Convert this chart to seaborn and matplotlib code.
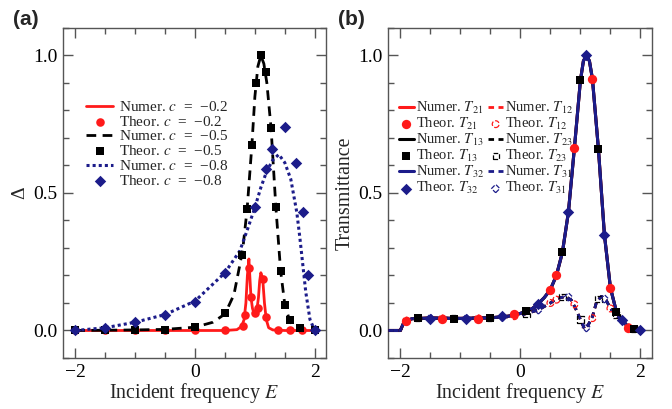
import numpy as np
import pandas as pd
import matplotlib
matplotlib.use("Agg")
import matplotlib.pyplot as plt
import seaborn as sns
from matplotlib.ticker import MultipleLocator, FixedLocator

# ---------------- Panel (a) data ----------------
a_red_line_E = [-2.0, -1.0, 0.0, 0.5, 0.7, 0.78, 0.82, 0.85, 0.875, 0.9, 0.915, 0.935, 0.96, 0.99, 1.03, 1.06, 1.08, 1.1, 1.13, 1.16, 1.19, 1.23, 1.3, 1.5, 2.0]
a_red_line_y = [0.0, 0.0, 0.0, 0.0, 0.003, 0.015, 0.04, 0.1, 0.2, 0.26, 0.2, 0.12, 0.08, 0.06, 0.07, 0.12, 0.18, 0.21, 0.19, 0.1, 0.04, 0.01, 0.002, 0.0, 0.0]
a_red_pts_E = [-2.0, -1.5, -1.0, -0.5, 0.0, 0.5, 0.8, 0.83, 0.9, 0.93, 1.0, 1.05, 1.14, 1.19, 1.39, 1.58, 1.78]
a_red_pts_y = [0.0, 0.0, 0.0, 0.0, 0.0, 0.0, 0.016, 0.057, 0.227, 0.122, 0.062, 0.08, 0.187, 0.048, 0.0, 0.0, 0.0]

a_blk_line_E = [-2.0, -1.0, -0.5, 0.0, 0.3, 0.5, 0.65, 0.75, 0.8, 0.87, 0.95, 1.0, 1.05, 1.1, 1.15, 1.2, 1.27, 1.35, 1.43, 1.5, 1.58, 1.65, 1.75, 2.0]
a_blk_line_y = [0.0, 0.002, 0.004, 0.012, 0.03, 0.06, 0.13, 0.24, 0.3, 0.44, 0.674, 0.85, 0.96, 1.0, 0.97, 0.9, 0.737, 0.45, 0.217, 0.094, 0.037, 0.015, 0.007, 0.0]
a_blk_pts_E = [-2.0, -1.5, -1.0, -0.5, 0.0, 0.5, 0.79, 0.87, 0.955, 1.02, 1.11, 1.18, 1.27, 1.35, 1.43, 1.5, 1.58, 1.75, 2.0]
a_blk_pts_y = [0.0, 0.0, 0.0, 0.003, 0.012, 0.062, 0.275, 0.44, 0.674, 0.9, 1.0, 0.94, 0.737, 0.45, 0.217, 0.094, 0.037, 0.008, 0.0]

a_blu_line_E = [-2.0, -1.5, -1.0, -0.5, 0.0, 0.5, 0.75, 0.88, 1.0, 1.1, 1.2, 1.3, 1.4, 1.5, 1.6, 1.7, 1.75, 1.8, 1.85, 1.92, 2.0]
a_blu_line_y = [0.0, 0.01, 0.03, 0.058, 0.107, 0.21, 0.29, 0.37, 0.447, 0.52, 0.58, 0.62, 0.64, 0.61, 0.55, 0.43, 0.34, 0.24, 0.14, 0.04, 0.0]
a_blu_pts_E = [-2.0, -1.5, -1.0, -0.5, 0.0, 0.5, 1.0, 1.19, 1.28, 1.5, 1.69, 1.8, 1.88, 2.0]
a_blu_pts_y = [0.0, 0.01, 0.03, 0.057, 0.105, 0.208, 0.45, 0.588, 0.66, 0.74, 0.61, 0.431, 0.2, 0.003]

# ---------------- Panel (b) data ----------------
b_main_E = [-2.2, -2.0, -1.95, -1.9, -1.8, -1.5, -1.0, -0.5, -0.2, 0.0, 0.2, 0.3, 0.4, 0.5, 0.6, 0.7, 0.8, 0.9, 1.0, 1.05, 1.1, 1.15, 1.2, 1.3, 1.4, 1.5, 1.6, 1.7, 1.8, 1.9, 2.0]
b_main_y = [0.0, 0.0, 0.025, 0.036, 0.043, 0.045, 0.044, 0.046, 0.052, 0.062, 0.08, 0.098, 0.12, 0.149, 0.2, 0.284, 0.43, 0.664, 0.909, 0.98, 1.0, 0.98, 0.915, 0.66, 0.348, 0.155, 0.068, 0.037, 0.012, 0.004, 0.0]
b_dash_E = [-2.2, -2.0, -1.95, -1.9, -1.8, -1.5, -1.0, -0.5, -0.2, 0.0, 0.3, 0.5, 0.6, 0.75, 0.85, 0.93, 1.0, 1.07, 1.13, 1.2, 1.27, 1.35, 1.43, 1.5, 1.6, 1.7, 1.8, 1.9, 2.0]
b_dash_y = [0.0, 0.0, 0.025, 0.036, 0.043, 0.045, 0.044, 0.046, 0.05, 0.055, 0.075, 0.1, 0.115, 0.124, 0.11, 0.075, 0.04, 0.005, 0.02, 0.05, 0.105, 0.124, 0.11, 0.08, 0.055, 0.035, 0.012, 0.004, 0.0]

b_T21_E = [-1.9, -1.3, -0.7, -0.1, 0.5, 0.6, 0.9, 1.2, 1.5, 1.8]
b_T21_y = [0.034, 0.042, 0.042, 0.06, 0.149, 0.2, 0.664, 0.915, 0.155, 0.01]
b_T13_E = [-1.7, -1.1, -0.5, 0.1, 0.7, 1.0, 1.3, 1.6, 1.9]
b_T13_y = [0.046, 0.042, 0.046, 0.072, 0.284, 0.909, 0.66, 0.068, 0.004]
b_T32_E = [-1.5, -0.9, -0.3, 0.3, 0.8, 1.1, 1.4, 1.7, 2.0]
b_T32_y = [0.042, 0.042, 0.052, 0.098, 0.43, 1.0, 0.348, 0.037, 0.0]

b_T12_E = [-1.9, -1.3, -0.7, -0.1, 0.5, 0.6, 0.9, 1.2, 1.5, 1.8]
b_T12_y = [0.036, 0.044, 0.044, 0.052, 0.1, 0.112, 0.095, 0.045, 0.08, 0.012]
b_T23_E = [-1.7, -1.1, -0.5, 0.1, 0.7, 1.0, 1.3, 1.6, 1.9]
b_T23_y = [0.044, 0.044, 0.046, 0.062, 0.122, 0.04, 0.115, 0.055, 0.004]
b_T31_E = [-1.5, -0.9, -0.3, 0.3, 0.8, 1.1, 1.4, 1.7, 2.0]
b_T31_y = [0.045, 0.044, 0.048, 0.075, 0.122, 0.01, 0.115, 0.035, 0.0]

RED = "#ff1a1a"
BLK = "#000000"
NAVY = "#1c1c8a"
SPINE = "#555555"

sns.set_theme(style="ticks")
plt.rcParams["font.family"] = ["Liberation Serif", "DejaVu Serif"]
plt.rcParams["mathtext.fontset"] = "stix"
plt.rcParams["axes.unicode_minus"] = True

fig = plt.figure(figsize=(6.72, 4.09), dpi=100)
axA = fig.add_axes([0.0933, 0.1247, 0.392, 0.807])
axB = fig.add_axes([0.577, 0.1247, 0.393, 0.807])


def style_axes(ax):
    ax.set_xlim(-2.21, 2.19)
    ax.set_ylim(-0.1, 1.1)
    ax.xaxis.set_major_locator(FixedLocator([-2, 0, 2]))
    ax.xaxis.set_minor_locator(FixedLocator([-1.5, -1, -0.5, 0.5, 1, 1.5]))
    ax.yaxis.set_major_locator(FixedLocator([0.0, 0.5, 1.0]))
    ax.yaxis.set_minor_locator(MultipleLocator(0.1))
    ax.set_yticklabels(["0.0", "0.5", "1.0"])
    ax.set_xticklabels(["\u22122", "0", "2"])
    ax.tick_params(which="both", direction="in", top=True, right=True,
                   color=SPINE, labelsize=14, labelcolor="black", pad=4)
    ax.tick_params(which="major", length=7.5, width=1)
    ax.tick_params(which="minor", length=4.5, width=1)
    for s in ax.spines.values():
        s.set_color(SPINE)
        s.set_linewidth(1.0)
    ax.set_xlabel("Incident frequency $E$", fontsize=14.4, labelpad=0)


# ---------------- Panel (a) ----------------
df_a_red = pd.DataFrame({"E": a_red_line_E, "y": a_red_line_y})
df_a_blk = pd.DataFrame({"E": a_blk_line_E, "y": a_blk_line_y})
df_a_blu = pd.DataFrame({"E": a_blu_line_E, "y": a_blu_line_y})

sns.lineplot(data=df_a_red, x="E", y="y", ax=axA, color=RED, lw=2.0,
             label="Numer. $c$  =  \u22120.2", zorder=3)
sns.scatterplot(x=a_red_pts_E, y=a_red_pts_y, ax=axA, color=RED, marker="o",
                s=38, linewidth=0, label="Theor. $c$  =  \u22120.2", zorder=4)
sns.lineplot(data=df_a_blk, x="E", y="y", ax=axA, color=BLK, lw=2.0,
             linestyle=(0, (3.5, 2.3)), label="Numer. $c$  =  \u22120.5", zorder=3)
sns.scatterplot(x=a_blk_pts_E, y=a_blk_pts_y, ax=axA, color=BLK, marker="s",
                s=34, linewidth=0, label="Theor. $c$  =  \u22120.5", zorder=4)
sns.lineplot(data=df_a_blu, x="E", y="y", ax=axA, color=NAVY, lw=2.2,
             linestyle=(0, (1.0, 1.0)), label="Numer. $c$  =  \u22120.8", zorder=3)
sns.scatterplot(x=a_blu_pts_E, y=a_blu_pts_y, ax=axA, color=NAVY, marker="D",
                s=34, linewidth=0, label="Theor. $c$  =  \u22120.8", zorder=4)

style_axes(axA)
axA.set_ylabel("\u0394", fontsize=14, labelpad=3)
legA = axA.legend(loc="upper left", bbox_to_anchor=(0.088, 0.782), frameon=False,
                  fontsize=11, handlelength=1.8, handletextpad=0.35,
                  labelspacing=0.05, borderpad=0, borderaxespad=0)

# ---------------- Panel (b) ----------------
df_main = pd.DataFrame({"E": b_main_E, "y": b_main_y})
df_dash = pd.DataFrame({"E": b_dash_E, "y": b_dash_y})

h = {}
h["n21"] = sns.lineplot(data=df_main, x="E", y="y", ax=axB, color=RED, lw=2.2, zorder=2).lines[-1]
h["n13"] = sns.lineplot(data=df_main, x="E", y="y", ax=axB, color=BLK, lw=2.2, zorder=2).lines[-1]
h["n32"] = sns.lineplot(data=df_main, x="E", y="y", ax=axB, color=NAVY, lw=2.2, zorder=2).lines[-1]
h["n12"] = sns.lineplot(data=df_dash, x="E", y="y", ax=axB, color=RED, lw=2.0,
                        linestyle=(0, (2.0, 1.6)), zorder=3).lines[-1]
h["n23"] = sns.lineplot(data=df_dash, x="E", y="y", ax=axB, color=BLK, lw=2.0,
                        linestyle=(0, (2.0, 1.6)), zorder=3).lines[-1]
h["n31"] = sns.lineplot(data=df_dash, x="E", y="y", ax=axB, color=NAVY, lw=2.0,
                        linestyle=(0, (2.0, 1.6)), zorder=3).lines[-1]

sns.scatterplot(x=b_T21_E, y=b_T21_y, ax=axB, color=RED, marker="o", s=45, linewidth=0, zorder=5)
h["t21"] = axB.collections[-1]
sns.scatterplot(x=b_T13_E, y=b_T13_y, ax=axB, color=BLK, marker="s", s=38, linewidth=0, zorder=5)
h["t13"] = axB.collections[-1]
sns.scatterplot(x=b_T32_E, y=b_T32_y, ax=axB, color=NAVY, marker="D", s=34, linewidth=0, zorder=5)
h["t32"] = axB.collections[-1]
sns.scatterplot(x=b_T12_E, y=b_T12_y, ax=axB, marker="o", s=24, facecolors="none",
                edgecolor=RED, linewidth=0.9, linestyles="--", zorder=4)
h["t12"] = axB.collections[-1]
sns.scatterplot(x=b_T23_E, y=b_T23_y, ax=axB, marker="s", s=20, facecolors="none",
                edgecolor=BLK, linewidth=0.9, linestyles="--", zorder=4)
h["t23"] = axB.collections[-1]
sns.scatterplot(x=b_T31_E, y=b_T31_y, ax=axB, marker="D", s=18, facecolors="none",
                edgecolor=NAVY, linewidth=0.9, linestyles="--", zorder=4)
h["t31"] = axB.collections[-1]

style_axes(axB)
axB.set_ylabel("Transmittance", fontsize=14.4, labelpad=2)

order = ["n21", "t21", "n13", "t13", "n32", "t32", "n12", "t12", "n23", "t23", "n31", "t31"]
labels = {
    "n21": "Numer. $T_{21}$", "t21": "Theor. $T_{21}$",
    "n13": "Numer. $T_{13}$", "t13": "Theor. $T_{13}$",
    "n32": "Numer. $T_{32}$", "t32": "Theor. $T_{32}$",
    "n12": "Numer. $T_{12}$", "t12": "Theor. $T_{12}$",
    "n23": "Numer. $T_{23}$", "t23": "Theor. $T_{23}$",
    "n31": "Numer. $T_{31}$", "t31": "Theor. $T_{31}$",
}
legB = axB.legend([h[k] for k in order], [labels[k] for k in order], ncol=2,
                  loc="upper left", bbox_to_anchor=(0.043, 0.782), frameon=False,
                  fontsize=10.5, handlelength=1.0, handletextpad=0.15,
                  labelspacing=0.0, columnspacing=0.3, borderpad=0, borderaxespad=0)
legB.set_zorder(10)

fig.text(0.02, 0.975, "(a)", fontsize=15, fontweight="bold",
         family=["Liberation Sans", "DejaVu Sans"], va="top", ha="left")
fig.text(0.503, 0.975, "(b)", fontsize=15, fontweight="bold",
         family=["Liberation Sans", "DejaVu Sans"], va="top", ha="left")

fig.savefig("out.png", dpi=100)
